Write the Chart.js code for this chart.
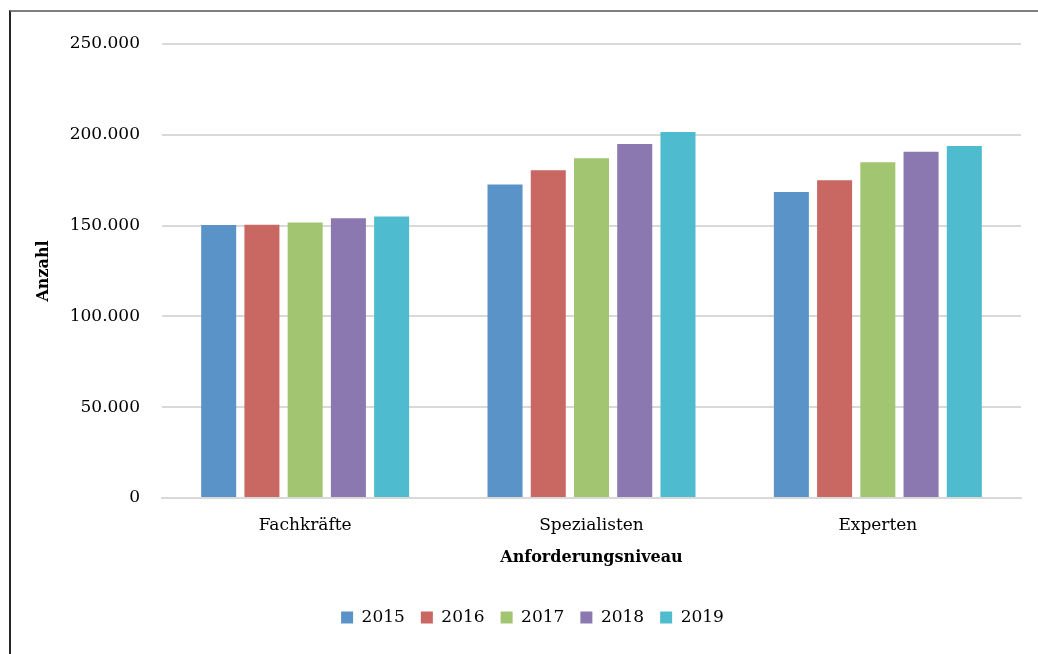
<!DOCTYPE html>
<html>
<head>
  <meta charset="utf-8">
  <title>Anforderungsniveau</title>
  <script src="https://cdn.jsdelivr.net/npm/chart.js"></script>
  <style>
    body { margin: 0; background: #fff; }
    #wrap { position: relative; width: 1038px; height: 654px; overflow: hidden; }
    #rahmen { position: absolute; left: 9px; top: 10px; width: 1100px; height: 700px;
      border-top: 2px solid #7f7f7f; border-left: 2px solid #262626; }
    canvas { position: absolute; left: 0; top: 0; }
  </style>
</head>
<body>
  <div id="wrap">
    <div id="rahmen"></div>
    <canvas id="grafik" width="1038" height="654"></canvas>
  </div>

  <script>
    const kategorien = ['Fachkräfte', 'Spezialisten', 'Experten'];
    const jahre = ['2015', '2016', '2017', '2018', '2019'];
    const werte2015 = [150300, 172700, 168500];
    const werte2016 = [150500, 180500, 175000];
    const werte2017 = [151700, 187100, 184900];
    const werte2018 = [154000, 195000, 190600];
    const werte2019 = [155000, 201600, 193900];
    const farben = ['#5a93c8', '#c96762', '#a2c571', '#8b78b1', '#4fbbce'];

    const alleWerte = [werte2015, werte2016, werte2017, werte2018, werte2019];
    const schrift = "'DejaVu Serif', serif";

    function tausender(v) {
      return String(v).replace(/\B(?=(\d{3})+(?!\d))/g, '.');
    }

    // Legende etwas nach rechts schieben (wie im Original)
    const legendeVerschieben = {
      id: 'legendeVerschieben',
      afterUpdate(chart) {
        chart.legend.left += 17;
        chart.legend.right += 17;
        (chart.legend.legendHitBoxes || []).forEach(b => { b.left += 17; });
      }
    };

    new Chart(document.getElementById('grafik'), {
      type: 'bar',
      data: {
        labels: kategorien,
        datasets: jahre.map((j, i) => ({
          label: j,
          data: alleWerte[i],
          backgroundColor: farben[i],
          borderWidth: 0,
          categoryPercentage: 0.755,
          barPercentage: 0.81
        }))
      },
      options: {
        responsive: false,
        animation: false,
        layout: { padding: { left: 10, right: 17, top: 44, bottom: 18 } },
        plugins: {
          tooltip: { enabled: false },
          legend: {
            position: 'bottom',
            labels: {
              boxWidth: 12, boxHeight: 12, padding: 16,
              color: '#000',
              font: { family: schrift, size: 17 }
            }
          }
        },
        scales: {
          x: {
            grid: { display: false },
            border: { color: '#d9d9d9', width: 2 },
            ticks: { color: '#000', padding: 9, font: { family: schrift, size: 17 } },
            title: {
              display: true, text: 'Anforderungsniveau', color: '#000',
              font: { family: schrift, size: 16, weight: 'bold' },
              padding: { top: 0, bottom: 26 }
            },
            afterFit: (s) => { s.height = 95; }
          },
          y: {
            min: 0, max: 250000,
            ticks: { stepSize: 50000, color: '#000', padding: 22,
              font: { family: schrift, size: 17 },
              callback: (v) => tausender(v) },
            grid: { color: '#d9d9d9', lineWidth: 2, drawTicks: false },
            border: { display: false },
            title: {
              display: true, text: 'Anzahl', color: '#000',
              font: { family: schrift, size: 16, weight: 'bold' },
              padding: { top: 24, bottom: 0 }
            },
            afterFit: (s) => { s.width = 152; }
          }
        }
      },
      plugins: [legendeVerschieben]
    });
  </script>
</body>
</html>
